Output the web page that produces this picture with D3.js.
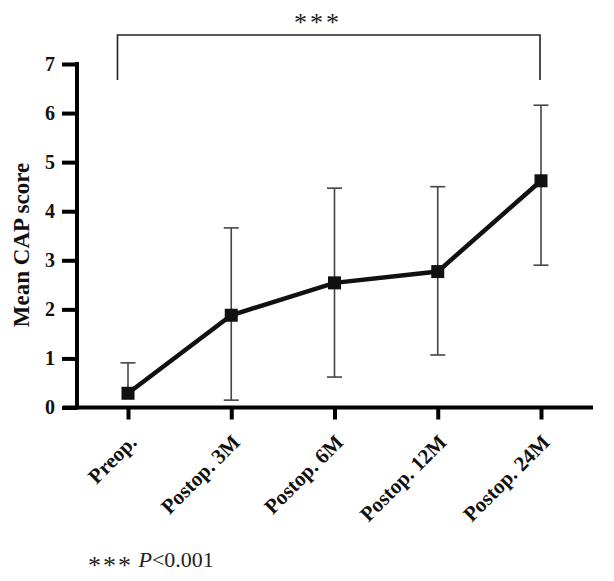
<!DOCTYPE html>
<html>
<head>
<meta charset="utf-8">
<script src="https://cdn.jsdelivr.net/npm/d3@7"></script>
<style>
  body { margin: 0; background: #fff; }
  text { font-family: "Liberation Serif", "DejaVu Serif", serif; }
</style>
</head>
<body>
<svg id="chart"></svg>
<script>
var categories = ['Preop.', 'Postop. 3M', 'Postop. 6M', 'Postop. 12M', 'Postop. 24M'];
var means = [0.29, 1.88, 2.54, 2.77, 4.62];
var upper = [0.91, 3.66, 4.47, 4.5, 6.16];
var lower = [null, 0.15, 0.62, 1.07, 2.9];
var yTicks = [0, 1, 2, 3, 4, 5, 6, 7];

var svg = d3.select('#chart').attr('width', 614).attr('height', 581);

var margin = { top: 64, left: 77 },
  height = 343.5;

var g = svg.append('g')
  .attr('transform', 'translate(' + margin.left + ',' + margin.top + ')');

var x = d3.scalePoint()
  .domain(categories)
  .range([51, 464]);

var y = d3.scaleLinear()
  .domain([0, 7])
  .range([height, 0]);

// y axis
var yAxis = g.append('g')
  .call(d3.axisLeft(y).tickValues(yTicks).tickFormat(d3.format('d')).tickSize(15).tickPadding(7));
yAxis.select('.domain').attr('stroke-width', 4).attr('d', 'M0,' + (height + 2) + 'V-2');
yAxis.selectAll('.tick line').attr('stroke-width', 4);
yAxis.selectAll('.tick text')
  .style('font-size', '20px').style('font-weight', 'bold').attr('fill', '#111');

// x axis
var xAxis = g.append('g')
  .attr('transform', 'translate(0,' + height + ')')
  .call(d3.axisBottom(x).tickSize(12).tickFormat(''));
xAxis.select('.domain').attr('stroke-width', 4).attr('d', 'M-14,0H516');
xAxis.selectAll('.tick line').attr('stroke-width', 4);

g.append('g').selectAll('text')
  .data(categories).enter()
  .append('text')
  .attr('transform', function(d) {
    return 'translate(' + (x(d) + 10) + ',' + (height + 36) + ') rotate(-45)';
  })
  .attr('text-anchor', 'end')
  .style('font-size', '21px')
  .style('font-weight', 'bold')
  .attr('fill', '#111')
  .text(function(d) { return d; });

// y label
svg.append('text')
  .attr('transform', 'translate(29,245) rotate(-90)')
  .attr('text-anchor', 'middle')
  .style('font-size', '23px')
  .style('font-weight', 'bold')
  .attr('fill', '#111')
  .text('Mean CAP score');

// error bars
var bars = g.append('g').selectAll('g')
  .data(categories).enter()
  .append('g');

bars.append('line')
  .attr('x1', function(d) { return x(d); })
  .attr('x2', function(d) { return x(d); })
  .attr('y1', function(d, i) { return y(upper[i]); })
  .attr('y2', function(d, i) { return y(lower[i] === null ? means[i] : lower[i]); })
  .attr('stroke', '#444')
  .attr('stroke-width', 1.6);

bars.append('line')
  .attr('x1', function(d) { return x(d) - 7.5; })
  .attr('x2', function(d) { return x(d) + 7.5; })
  .attr('y1', function(d, i) { return y(upper[i]); })
  .attr('y2', function(d, i) { return y(upper[i]); })
  .attr('stroke', '#444')
  .attr('stroke-width', 1.6);

bars.filter(function(d, i) { return lower[i] !== null; })
  .append('line')
  .attr('x1', function(d) { return x(d) - 7.5; })
  .attr('x2', function(d) { return x(d) + 7.5; })
  .attr('y1', function(d) { return y(lower[categories.indexOf(d)]); })
  .attr('y2', function(d) { return y(lower[categories.indexOf(d)]); })
  .attr('stroke', '#444')
  .attr('stroke-width', 1.6);

// mean line
var line = d3.line()
  .x(function(d, i) { return x(categories[i]); })
  .y(function(d) { return y(d); });

g.append('path')
  .datum(means)
  .attr('d', line)
  .attr('fill', 'none')
  .attr('stroke', '#111')
  .attr('stroke-width', 4.5);

g.append('g').selectAll('rect')
  .data(means).enter()
  .append('rect')
  .attr('x', function(d, i) { return x(categories[i]) - 6.5; })
  .attr('y', function(d) { return y(d) - 6.5; })
  .attr('width', 13)
  .attr('height', 13)
  .attr('fill', '#111');

// significance bracket
svg.append('path')
  .attr('d', 'M117.5,80V35H540V80')
  .attr('fill', 'none')
  .attr('stroke', '#222')
  .attr('stroke-width', 1.6);

svg.append('text')
  .attr('x', 318)
  .attr('y', 31)
  .attr('text-anchor', 'middle')
  .style('font-size', '26px')
  .style('letter-spacing', '3px')
  .attr('fill', '#222')
  .text('***');

// footnote
var note = svg.append('text')
  .attr('x', 88)
  .attr('y', 567)
  .style('font-size', '22px')
  .attr('fill', '#222');
note.append('tspan').attr('dy', 7).style('font-size', '26px').style('letter-spacing', '2px').text('***');
note.append('tspan').attr('dy', -7).style('font-style', 'italic').text(' P');
note.append('tspan').text('<0.001');
</script>
</body>
</html>
